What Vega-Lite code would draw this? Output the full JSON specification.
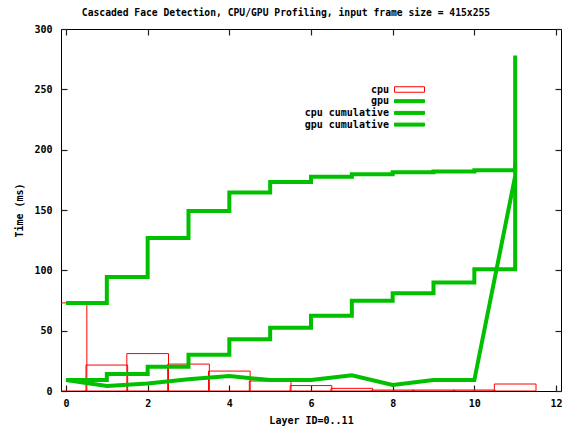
{
  "$schema": "https://vega.github.io/schema/vega-lite/v6.json",
  "width": 500,
  "height": 362,
  "autosize": {"type": "none"},
  "padding": {"left": 61, "top": 29, "right": 4, "bottom": 38},
  "background": "white",
  "title": {
    "text": "Cascaded Face Detection, CPU/GPU Profiling, input frame size = 415x255",
    "font": "DejaVu Sans Mono",
    "fontSize": 9.7,
    "fontWeight": "bold",
    "color": "black",
    "frame": "group",
    "anchor": "middle",
    "dx": -25,
    "offset": 6
  },
  "config": {
    "view": {"stroke": "black", "strokeWidth": 1},
    "axis": {
      "labelFont": "DejaVu Sans Mono",
      "labelFontSize": 10,
      "labelFontWeight": "bold",
      "labelColor": "black",
      "titleFont": "DejaVu Sans Mono",
      "titleFontSize": 10,
      "titleFontWeight": "bold",
      "titleColor": "black",
      "labelFlush": false
    },
    "legend": {
      "orient": "none", "legendX": 343, "legendY": 55, "title": null, "padding": 0,
      "symbolType": "M-3,-0.5H3V0.5H-3Z", "symbolSize": 100, "symbolStrokeWidth": 1,
      "labelAlign": "right", "labelOffset": -26, "labelFont": "DejaVu Sans Mono", "labelFontSize": 10,
      "labelFontWeight": "bold", "labelColor": "black", "rowPadding": 0.7
    }
  },
  "resolve": {"axis": {"x": "independent", "y": "independent"}},
  "datasets": {
    "d": [
      {"layer": 0, "series": "cpu", "value": 73},
      {"layer": 1, "series": "cpu", "value": 21.5},
      {"layer": 2, "series": "cpu", "value": 31},
      {"layer": 3, "series": "cpu", "value": 22.3},
      {"layer": 4, "series": "cpu", "value": 16.5},
      {"layer": 5, "series": "cpu", "value": 8.3},
      {"layer": 6, "series": "cpu", "value": 4.5},
      {"layer": 7, "series": "cpu", "value": 2.2},
      {"layer": 8, "series": "cpu", "value": 0.8},
      {"layer": 9, "series": "cpu", "value": 0.8},
      {"layer": 10, "series": "cpu", "value": 0.8},
      {"layer": 11, "series": "cpu", "value": 5.8},
      {"layer": 0, "series": "gpu", "value": 9.1},
      {"layer": 1, "series": "gpu", "value": 4.1},
      {"layer": 2, "series": "gpu", "value": 6.3},
      {"layer": 3, "series": "gpu", "value": 9.7},
      {"layer": 4, "series": "gpu", "value": 12.4},
      {"layer": 5, "series": "gpu", "value": 9.1},
      {"layer": 6, "series": "gpu", "value": 9.1},
      {"layer": 7, "series": "gpu", "value": 13},
      {"layer": 8, "series": "gpu", "value": 5},
      {"layer": 9, "series": "gpu", "value": 9.1},
      {"layer": 10, "series": "gpu", "value": 9.1},
      {"layer": 11, "series": "gpu", "value": 178},
      {"layer": 0, "series": "cpu cumulative", "value": 73},
      {"layer": 1, "series": "cpu cumulative", "value": 94.5},
      {"layer": 2, "series": "cpu cumulative", "value": 126.8},
      {"layer": 3, "series": "cpu cumulative", "value": 149.2},
      {"layer": 4, "series": "cpu cumulative", "value": 164.6},
      {"layer": 5, "series": "cpu cumulative", "value": 173.2},
      {"layer": 6, "series": "cpu cumulative", "value": 177.6},
      {"layer": 7, "series": "cpu cumulative", "value": 179.6},
      {"layer": 8, "series": "cpu cumulative", "value": 181.2},
      {"layer": 9, "series": "cpu cumulative", "value": 182},
      {"layer": 10, "series": "cpu cumulative", "value": 182.9},
      {"layer": 11, "series": "cpu cumulative", "value": 188.7},
      {"layer": 0, "series": "gpu cumulative", "value": 9.1},
      {"layer": 1, "series": "gpu cumulative", "value": 14},
      {"layer": 2, "series": "gpu cumulative", "value": 20},
      {"layer": 3, "series": "gpu cumulative", "value": 30},
      {"layer": 4, "series": "gpu cumulative", "value": 42.8},
      {"layer": 5, "series": "gpu cumulative", "value": 52.5},
      {"layer": 6, "series": "gpu cumulative", "value": 62.4},
      {"layer": 7, "series": "gpu cumulative", "value": 74.8},
      {"layer": 8, "series": "gpu cumulative", "value": 81},
      {"layer": 9, "series": "gpu cumulative", "value": 90},
      {"layer": 10, "series": "gpu cumulative", "value": 100.8},
      {"layer": 11, "series": "gpu cumulative", "value": 278}
    ]
  },
  "data": {"name": "d"},
  "layer": [
    {
      "transform": [{"filter": "datum.series === 'cpu'"}],
      "mark": {"type": "bar", "orient": "vertical", "fill": "transparent", "strokeWidth": 1, "width": 41.667, "clip": true},
      "encoding": {
        "x": {"field": "layer", "type": "quantitative", "scale": {"domain": [0, 12], "nice": false, "zero": false},
              "axis": {"orient": "bottom", "values": [0, 2, 4, 6, 8, 10, 12], "ticks": true, "tickSize": -6, "tickColor": "#202020", "tickWidth": 1.2, "domain": false, "grid": false,
                       "labelPadding": 13, "title": "Layer ID=0..11", "titlePadding": 7}},
        "y": {"field": "value", "type": "quantitative", "scale": {"domain": [0, 300], "nice": false},
              "axis": {"orient": "left", "values": [0, 50, 100, 150, 200, 250, 300], "ticks": true, "tickSize": -6, "tickColor": "#202020", "tickWidth": 1.2, "domain": false, "grid": false,
                       "labelPadding": 15, "title": "Time (ms)", "titlePadding": 9}},
        "y2": {"datum": 0},
        "stroke": {"field": "series", "type": "nominal",
                   "scale": {"domain": ["cpu", "gpu", "cpu cumulative", "gpu cumulative"], "range": ["#ff0000", "#00c000", "#00c000", "#00c000"]},
                   "legend": {"encode": {"symbols": {"update": {
                                "fill": {"signal": "datum.value === 'cpu' ? 'transparent' : '#00c000'"},
                                "shape": {"signal": "datum.value === 'cpu' ? 'M-3,-0.55H3V0.55H-3Z' : 'M-3,-0.3H3V0.3H-3Z'"}
                              }}}}}
      }
    },
    {
      "transform": [{"filter": "datum.series === 'gpu'"}],
      "mark": {"type": "line", "strokeWidth": 4, "interpolate": "linear", "clip": true},
      "encoding": {
        "x": {"field": "layer", "type": "quantitative",
              "axis": {"orient": "top", "values": [0, 2, 4, 6, 8, 10, 12], "labels": false, "title": null, "ticks": true, "tickSize": -6, "tickColor": "#202020", "tickWidth": 1.2, "domain": false, "grid": false}},
        "y": {"field": "value", "type": "quantitative",
              "axis": {"orient": "right", "values": [0, 50, 100, 150, 200, 250, 300], "labels": false, "title": null, "ticks": true, "tickSize": -6, "tickColor": "#202020", "tickWidth": 1.2, "domain": false, "grid": false}},
        "stroke": {"field": "series", "type": "nominal",
                   "legend": {"encode": {"symbols": {"update": {
                                "fill": {"signal": "datum.value === 'cpu' ? 'transparent' : '#00c000'"},
                                "shape": {"signal": "datum.value === 'cpu' ? 'M-3,-0.55H3V0.55H-3Z' : 'M-3,-0.3H3V0.3H-3Z'"}
                              }}}}}
      }
    },
    {
      "transform": [{"filter": "datum.series === 'cpu cumulative'"}],
      "mark": {"type": "line", "strokeWidth": 4, "interpolate": "step-after", "clip": true},
      "encoding": {
        "x": {"field": "layer", "type": "quantitative", "axis": null},
        "y": {"field": "value", "type": "quantitative", "axis": null},
        "stroke": {"field": "series", "type": "nominal",
                   "legend": {"encode": {"symbols": {"update": {
                                "fill": {"signal": "datum.value === 'cpu' ? 'transparent' : '#00c000'"},
                                "shape": {"signal": "datum.value === 'cpu' ? 'M-3,-0.55H3V0.55H-3Z' : 'M-3,-0.3H3V0.3H-3Z'"}
                              }}}}}
      }
    },
    {
      "transform": [{"filter": "datum.series === 'gpu cumulative'"}],
      "mark": {"type": "line", "strokeWidth": 4, "interpolate": "step-after", "clip": true},
      "encoding": {
        "x": {"field": "layer", "type": "quantitative", "axis": null},
        "y": {"field": "value", "type": "quantitative", "axis": null},
        "stroke": {"field": "series", "type": "nominal",
                   "legend": {"encode": {"symbols": {"update": {
                                "fill": {"signal": "datum.value === 'cpu' ? 'transparent' : '#00c000'"},
                                "shape": {"signal": "datum.value === 'cpu' ? 'M-3,-0.55H3V0.55H-3Z' : 'M-3,-0.3H3V0.3H-3Z'"}
                              }}}}}
      }
    }
  ]
}
